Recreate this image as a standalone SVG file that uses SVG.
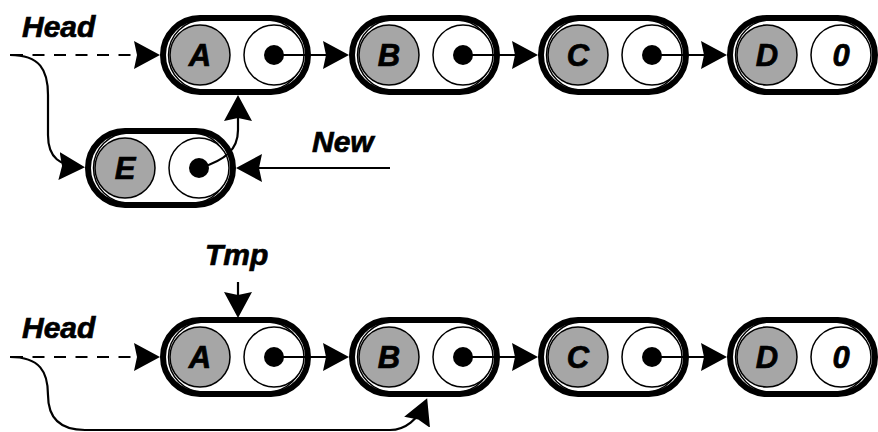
<svg xmlns="http://www.w3.org/2000/svg" width="878" height="432" viewBox="0 0 878 432">
<style>
.outer{fill:#fff;stroke:#000;stroke-width:6}
.inner{fill:none;stroke:#000;stroke-width:1.5}
.data{fill:#a6a6a6;stroke:#000;stroke-width:1.5}
.ptr{fill:#fff;stroke:#000;stroke-width:1.5}
.dot{fill:#000}
.t{font-family:"Liberation Sans",Arial,sans-serif;font-weight:bold;font-style:italic;fill:#000;stroke:#000;stroke-width:0.7}
.nt{font-size:31px;text-anchor:middle}
.lb{font-size:30px}
.c{fill:none;stroke:#000;stroke-width:2.2}
.d{stroke-dasharray:12 9.5}
</style>
<defs>
<marker id="ah" markerUnits="userSpaceOnUse" markerWidth="30" markerHeight="30" viewBox="0 0 30 30" refX="23" refY="15" orient="auto">
<path d="M0,1 L26,15 L0,29 L3,15 Z" fill="#000"/>
</marker>
<g id="nodeShape">
<rect x="3" y="-37" width="145" height="74" rx="37" class="outer"/>
<rect x="8.5" y="-35" width="134" height="70" rx="35" class="inner"/>
<circle cx="40" cy="0" r="30" class="data"/>
<circle cx="114" cy="0" r="30" class="ptr"/>
</g>
</defs>

<g id="top-A" transform="translate(160,55)"><use href="#nodeShape"/><circle cx="114" cy="0" r="10" class="dot"/><text x="40" y="11" class="t nt">A</text></g>
<g id="top-B" transform="translate(349,55)"><use href="#nodeShape"/><circle cx="114" cy="0" r="10" class="dot"/><text x="40" y="11" class="t nt">B</text></g>
<g id="top-C" transform="translate(538,55)"><use href="#nodeShape"/><circle cx="114" cy="0" r="10" class="dot"/><text x="40" y="11" class="t nt">C</text></g>
<g id="top-D" transform="translate(727,55)"><use href="#nodeShape"/><text x="40" y="11" class="t nt">D</text><text x="114" y="11" class="t nt">0</text></g>
<g id="top-E" transform="translate(85,168)"><use href="#nodeShape"/><circle cx="114" cy="0" r="10" class="dot"/><text x="40" y="11" class="t nt">E</text></g>

<g id="bot-A" transform="translate(160,357)"><use href="#nodeShape"/><circle cx="114" cy="0" r="10" class="dot"/><text x="40" y="11" class="t nt">A</text></g>
<g id="bot-B" transform="translate(349,357)"><use href="#nodeShape"/><circle cx="114" cy="0" r="10" class="dot"/><text x="40" y="11" class="t nt">B</text></g>
<g id="bot-C" transform="translate(538,357)"><use href="#nodeShape"/><circle cx="114" cy="0" r="10" class="dot"/><text x="40" y="11" class="t nt">C</text></g>
<g id="bot-D" transform="translate(727,357)"><use href="#nodeShape"/><text x="40" y="11" class="t nt">D</text><text x="114" y="11" class="t nt">0</text></g>

<g id="labels">
<text x="22" y="37" class="t lb">Head</text>
<text x="312" y="152" class="t lb">New</text>
<text x="205" y="265" class="t lb">Tmp</text>
<text x="22" y="338" class="t lb">Head</text>
</g>

<g id="connectors">
<path class="c" d="M274,55 H346" marker-end="url(#ah)"/>
<path class="c" d="M463,55 H535" marker-end="url(#ah)"/>
<path class="c" d="M652,55 H724" marker-end="url(#ah)"/>
<path class="c d" d="M11,55 H157" marker-end="url(#ah)"/>
<path class="c" d="M10,55 C40,55 48,70 48,95 V135 C48,158 60,166 82,167" marker-end="url(#ah)"/>
<path class="c" d="M200,168 C225,160 238,150 238,130 V98" marker-end="url(#ah)"/>
<path class="c" d="M390,168 H239" marker-end="url(#ah)"/>

<path class="c" d="M274,357 H346" marker-end="url(#ah)"/>
<path class="c" d="M463,357 H535" marker-end="url(#ah)"/>
<path class="c" d="M652,357 H724" marker-end="url(#ah)"/>
<path class="c d" d="M11,357 H157" marker-end="url(#ah)"/>
<path class="c" d="M10,357 C40,357 48,372 48,395 C48,420 62,430 85,430 H390 C405,430 418,420 426,401" marker-end="url(#ah)"/>
<path class="c" d="M238,282 V315" marker-end="url(#ah)"/>
</g>
</svg>
